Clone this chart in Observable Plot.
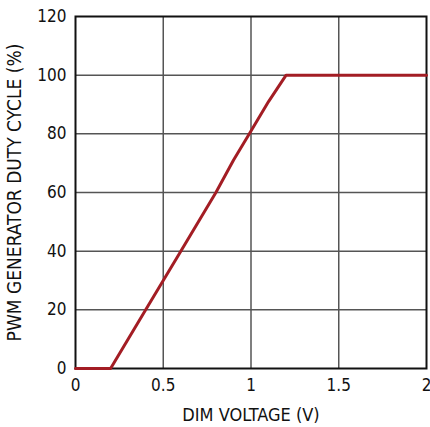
<!DOCTYPE html>
<html><head><meta charset="utf-8">
<script src="https://cdn.jsdelivr.net/npm/d3@7"></script>
<script src="https://cdn.jsdelivr.net/npm/@observablehq/plot@0.6"></script>
<style>body{margin:0;background:#fff}</style>
</head><body><div id="chart"></div>
<script>
const dimVoltage = [0, 0.2, 0.4, 0.5, 0.6, 0.8, 0.9, 1.0, 1.1, 1.2, 2.0];
const dutyCycle  = [0, 0, 20, 30, 40, 60, 71, 81, 91, 100, 100];
const xTicks = [0, 0.5, 1, 1.5, 2];
const yTicks = [0, 20, 40, 60, 80, 100, 120];
const data = dimVoltage.map((v, i) => ({v, d: dutyCycle[i]}));
const font = "'Liberation Sans Narrow', 'DejaVu Sans Condensed', Roboto, sans-serif";
const chart = Plot.plot({
  width: 430, height: 427,
  marginLeft: 75, marginRight: 4, marginTop: 16, marginBottom: 59,
  style: {fontFamily: font, fontSize: "17px", color: "#111", background: "#fff"},
  x: {domain: [0, 2], ticks: xTicks, tickFormat: d => String(d), label: "DIM VOLTAGE (V)", labelAnchor: "center", labelArrow: "none"},
  y: {domain: [0, 120], ticks: yTicks, label: "PWM GENERATOR DUTY CYCLE (%)", labelAnchor: "center", labelArrow: "none"},
  marks: [
    Plot.gridX(xTicks.slice(1, -1), {stroke: "#555", strokeOpacity: 1, strokeWidth: 1.5}),
    Plot.gridY(yTicks.slice(1, -1), {stroke: "#555", strokeOpacity: 1, strokeWidth: 1.5}),
    Plot.frame({stroke: "#111", strokeWidth: 2}),
    Plot.axisX({ticks: xTicks, tickSize: 0, tickPadding: 10, tickFormat: d => String(d), label: null, fontSize: 17}),
    Plot.axisY({ticks: yTicks, tickSize: 0, tickPadding: 9, label: null, fontSize: 17}),
    Plot.axisX({ticks: [], tickSize: 0, label: "DIM VOLTAGE (V)", labelAnchor: "center", labelArrow: "none", labelOffset: 52, fontSize: 18}),
    Plot.axisY({ticks: [], tickSize: 0, label: "PWM GENERATOR DUTY CYCLE (%)", labelAnchor: "center", labelArrow: "none", labelOffset: 68, fontSize: 19}),
    Plot.line(data, {x: "v", y: "d", stroke: "#a31d24", strokeWidth: 3})
  ]
});
document.getElementById("chart").appendChild(chart);
</script></body></html>
